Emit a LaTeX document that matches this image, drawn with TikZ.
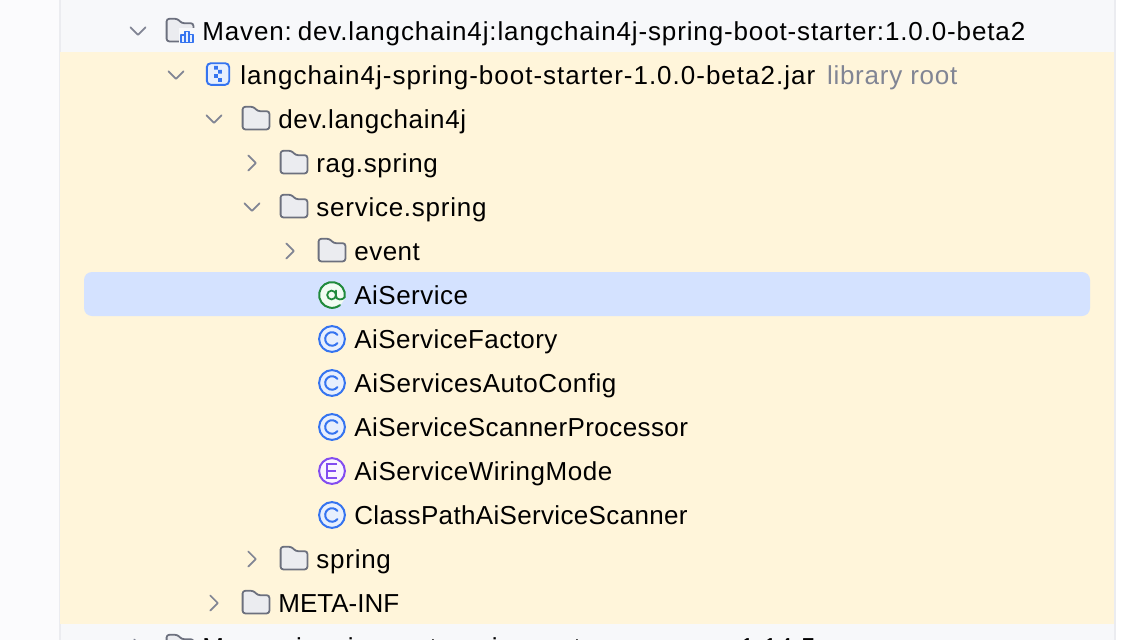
\documentclass[tikz,border=0pt]{standalone}
\usepackage{fontspec}
\setmainfont{Liberation Sans}
\definecolor{panel}{HTML}{F7F8FA}
\definecolor{side}{HTML}{FBFBFD}
\definecolor{rule}{HTML}{EBECF0}
\definecolor{hilite}{HTML}{FFF5DA}
\definecolor{selrow}{HTML}{D4E2FF}
\definecolor{chev}{HTML}{818594}
\definecolor{fstroke}{HTML}{6C707E}
\definecolor{ffill}{HTML}{EBECF0}
\definecolor{jblue}{HTML}{3574F0}
\definecolor{jbluef}{HTML}{E7EFFD}
\definecolor{jgreen}{HTML}{208A3C}
\definecolor{jgreenf}{HTML}{F2FCF3}
\definecolor{jpurple}{HTML}{834DF0}
\definecolor{jpurplef}{HTML}{FAF5FF}
\tikzset{
  x=1pt,y=-1pt,
  lbl/.style={anchor=base west,inner sep=0pt,outer sep=0pt,text=black,
    font=\fontsize{26}{30}\selectfont\addfontfeature{LetterSpace=#1}},
  dim/.style={lbl=#1,text=chev},
  chevline/.style={draw=chev,line width=1.7pt,line cap=round,line join=round},
  foldershape/.pic={
    \draw[draw=fstroke,fill=ffill,line width=1.8pt,line join=round,rounded corners=2.6pt]
      (-13.4,10.4) -- (-13.4,-12.2) -- (-2.4,-12.2) -- (1.6,-7.8) -- (13.4,-7.8) -- (13.4,10.4) -- cycle;
  },
  chevdown/.pic={\draw[chevline] (-7.6,-3.8) -- (0,3.8) -- (7.6,-3.8);},
  chevright/.pic={\draw[chevline] (-3.8,-7.6) -- (3.8,0) -- (-3.8,7.6);},
  classicon/.pic={
    \draw[draw=jblue,fill=jbluef,line width=2pt] (0,0) circle[radius=12.9];
    \draw[draw=jblue,line width=2pt,line cap=round] (5.4,-4.1) arc[start angle=-37,end angle=-323,radius=6.8];
  },
  annoticon/.pic={
    \fill[jgreenf] (0,0) circle[radius=12.9];
    \draw[draw=jgreen,line width=2pt,line cap=round] (12.7,2.2) arc[start angle=10,end angle=-308,radius=12.9];
    \draw[draw=jgreen,line width=1.8pt] (-0.4,0) circle[radius=4.4];
    \draw[draw=jgreen,line width=1.8pt,line cap=round] (4,-4.6) -- (4,1.2) .. controls (4,5) and (10.6,5.6) .. (12.7,2.2);
  },
  enumicon/.pic={
    \draw[draw=jpurple,fill=jpurplef,line width=2pt] (0,0) circle[radius=12.9];
    \draw[draw=jpurple,line width=2pt,line join=miter] (5.2,-6.6) -- (-4.8,-6.6) -- (-4.8,6.6) -- (5.2,6.6);
    \draw[draw=jpurple,line width=2pt] (-4.8,0) -- (4.4,0);
  },
  jaricon/.pic={
    \draw[draw=jblue,fill=jbluef,line width=1.9pt,rounded corners=4pt] (-11.2,-10.8) rectangle (11.2,10.8);
    \fill[jblue] (-3.8,-8.1) rectangle (-0.2,-4.5)
                 (0.2,-4.1) rectangle (3.8,-0.5)
                 (-3.8,0.2) rectangle (-0.2,3.8)
                 (0.2,4.2) rectangle (3.8,7.8);
  },
  mavenbadge/.pic={
    \fill[panel] (-1.5,-3) rectangle (15,14);
    \draw[draw=jblue,fill=jbluef,line width=1.8pt,line join=round] (1,11.4) -- (1,4) -- (5.2,4) -- (5.2,11.4) -- cycle;
    \draw[draw=jblue,fill=jbluef,line width=1.8pt,line join=round] (5.2,11.4) -- (5.2,0.4) -- (8.9,0.4) -- (8.9,11.4) -- cycle;
    \draw[draw=jblue,fill=jbluef,line width=1.8pt,line join=round] (8.9,11.4) -- (8.9,3.4) -- (12.6,3.4) -- (12.6,11.4) -- cycle;
  },
}
\begin{document}
\begin{tikzpicture}
\useasboundingbox (0,0) rectangle (1136,640);
\clip (0,0) rectangle (1136,640);
% backgrounds
\fill[white] (0,0) rectangle (1136,640);
\fill[side] (0,0) rectangle (59,640);
\fill[panel] (59,0) rectangle (1115,640);
\fill[rule] (59,0) rectangle (61,640);
\fill[rule] (1114,0) rectangle (1116,640);
\fill[hilite] (60,52) rectangle (1114,624);
\fill[selrow,rounded corners=8pt] (84,272) rectangle (1090,316);
% chevrons
\pic at (138,31) {chevdown};
\pic at (176,75) {chevdown};
\pic at (214,119) {chevdown};
\pic at (252,163) {chevright};
\pic at (252,207) {chevdown};
\pic at (290,251) {chevright};
\pic at (252,559) {chevright};
\pic at (214,603) {chevright};
\pic at (138,647) {chevright};
% icons
\pic at (180,31) {foldershape};
\pic at (180,31) {mavenbadge};
\pic at (218,74) {jaricon};
\pic at (256,119) {foldershape};
\pic at (294,163) {foldershape};
\pic at (294,207) {foldershape};
\pic at (332,251) {foldershape};
\pic at (332,295) {annoticon};
\pic at (332,339) {classicon};
\pic at (332,383) {classicon};
\pic at (332,427) {classicon};
\pic at (332,471) {enumicon};
\pic at (332,515) {classicon};
\pic at (294,559) {foldershape};
\pic at (256,603) {foldershape};
\pic at (180,647) {foldershape};
% labels
\node[lbl=3.33] (maven) at (202.4,40) {Maven:\kern-5pt{} dev.langchain4j:langchain4j-spring-boot-starter:1.0.0-beta2};
\node[lbl=3.84] (jar) at (240.4,84) {langchain4j-spring-boot-starter-1.0.0-beta2.jar};
\node[dim=2.9] (root) at (827,84) {library root};
\node[lbl=2.5] (dev) at (278.4,128) {dev.langchain4j};
\node[lbl=2.5] (rag) at (316.4,172) {rag.spring};
\node[lbl=2.9] (svc) at (316.4,216) {service.spring};
\node[lbl=1.8] (event) at (354.4,260) {event};
\node[lbl=1.85] (ais) at (354.4,304) {AiService};
\node[lbl=1.7] (aisf) at (354.4,348) {AiServiceFactory};
\node[lbl=2.15] (aisa) at (354.4,392) {AiServicesAutoConfig};
\node[lbl=1.6] (aisp) at (354.4,436) {AiServiceScannerProcessor};
\node[lbl=2] (aisw) at (354.4,480) {AiServiceWiringMode};
\node[lbl=1.3] (cpas) at (354.4,524) {ClassPathAiServiceScanner};
\node[lbl=2.9] (spring) at (316.4,568) {spring};
\node[lbl=0.04] (meta) at (278.4,612) {META-INF};
\node[lbl=2.4] (micro) at (202.4,656) {Maven:\kern-5pt{} io.micrometer:micrometer-commons:1.14.5};
\end{tikzpicture}
\end{document}
